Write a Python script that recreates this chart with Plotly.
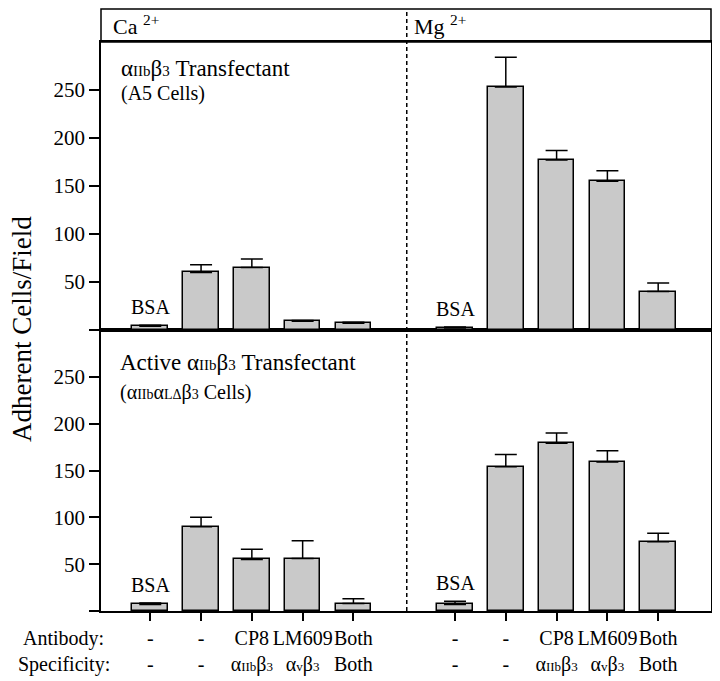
import plotly.graph_objects as go

# ---------------- data ----------------
antibody = ["-", "-", "CP8", "LM609", "Both"]
specificity = ["-", "-", "α<span style='font-size:13px'>IIb</span>β<span style='font-size:13px'>3</span>",
               "α<span style='font-size:13px'>v</span>β<span style='font-size:13px'>3</span>", "Both"]
bar_labels = ["BSA", "", "", "", ""]

a5_ca = [4, 60, 65, 9, 7]
a5_ca_err = [1, 8, 9, 1, 1]
a5_mg = [2, 253, 177, 155, 40]
a5_mg_err = [1, 31, 10, 11, 9]

act_ca = [7, 90, 55, 56, 8]
act_ca_err = [1.5, 10, 11, 19, 5]
act_mg = [7, 154, 179, 159, 74]
act_mg_err = [3.5, 13, 11, 12, 9]

y_ticks = [0, 50, 100, 150, 200, 250]
y_ticktext = ["", "50", "100", "150", "200", "250"]

# ---------------- layout helpers ----------------
FONT = "Liberation Serif, Times New Roman, serif"
OFF = 8                       # page body margin of the html page
W, H = 720 - OFF, 681 - OFF
ML, MR, MT, MB = 101 - OFF, 9, 1, 70
PW, PH = W - ML - MR, H - MT - MB


def px(xp):  # page pixel x -> paper
    return (xp - OFF - ML) / PW


def py(yp):  # page pixel y -> paper
    return (H - MB - (yp - OFF)) / PH


n = len(antibody)
x_ca = [i for i in range(n)]
x_mg = [i + n + 1 for i in range(n)]
x_all = x_ca + x_mg
xrange_ = [-0.97, 2 * n + 1.04]
divider = n + 0.05

split = py(330)
header_bot = py(42)

BAR_COLOR = "#c9c9c9"
LW = 1.5


def bars(x, y, err, xa, ya):
    return go.Bar(
        x=x, y=y, width=0.70, xaxis=xa, yaxis=ya,
        marker=dict(color=BAR_COLOR, line=dict(color="black", width=LW)),
        error_y=dict(type="data", array=err, arrayminus=[0] * len(err), symmetric=False,
                     color="black", thickness=LW, width=11),
        showlegend=False, hoverinfo="y",
    )


fig = go.Figure()
fig.add_trace(bars(x_ca, a5_ca, a5_ca_err, "x2", "y2"))
fig.add_trace(bars(x_mg, a5_mg, a5_mg_err, "x2", "y2"))
fig.add_trace(bars(x_ca, act_ca, act_ca_err, "x", "y"))
fig.add_trace(bars(x_mg, act_mg, act_mg_err, "x", "y"))

ticktext_x = [f"{a}<br>{s}" for a, s in zip(antibody, specificity)] * 2

yax_common = dict(range=[0, 300], tickvals=y_ticks, ticktext=y_ticktext,
                  ticks="outside", ticklen=10, tickwidth=LW, tickcolor="black",
                  showline=True, linecolor="black", linewidth=LW, mirror=True,
                  showgrid=False, zeroline=False, automargin=False,
                  tickfont=dict(family=FONT, size=21, color="black"))

fig.update_layout(
    width=W, height=H,
    margin=dict(l=ML, r=MR, t=MT, b=MB),
    paper_bgcolor="white", plot_bgcolor="white",
    bargap=0,
    xaxis=dict(domain=[0, 1], range=xrange_, anchor="y",
               tickvals=x_all, ticktext=ticktext_x, tickangle=0,
               ticks="outside", ticklen=8, tickwidth=LW, tickcolor="black",
               showline=True, linecolor="black", linewidth=LW, mirror=True,
               showgrid=False, zeroline=False, automargin=False,
               tickfont=dict(family=FONT, size=20, color="black")),
    yaxis=dict(domain=[0, split], anchor="x", **yax_common),
    xaxis2=dict(domain=[0, 1], range=xrange_, anchor="y2", showticklabels=False,
                ticks="", showline=True, linecolor="black", linewidth=LW, mirror=True,
                showgrid=False, zeroline=False),
    yaxis2=dict(domain=[split, header_bot], anchor="x2", **yax_common),
)

# header box and divider
fig.add_shape(type="rect", xref="paper", yref="paper", x0=0, x1=1, y0=header_bot, y1=1,
              line=dict(color="black", width=LW), fillcolor="rgba(0,0,0,0)")
fig.add_shape(type="line", xref="x", yref="paper", x0=divider, x1=divider, y0=0, y1=1,
              line=dict(color="black", width=LW, dash="4px,3px"))

ann = []


def text(x, y, s, size, xanchor="left", xref="paper", yref="paper", yanchor="middle", yshift=0, angle=0):
    ann.append(dict(x=x, y=y, xref=xref, yref=yref, text=s, showarrow=False,
                    xanchor=xanchor, yanchor=yanchor, yshift=yshift, textangle=angle,
                    font=dict(family=FONT, size=size, color="black")))


text(px(111), py(25), "Ca <sup>2+</sup>", 22)
text(px(412), py(25), "Mg <sup>2+</sup>", 22)

sm = "<span style='font-size:15px'>"
sm2 = "<span style='font-size:14px'>"
text(px(119), py(69), f"α{sm}IIb</span>β{sm}3</span> Transfectant", 23)
text(px(119), py(94), "(A5 Cells)", 20)
text(px(118), py(362), f"Active α{sm}IIb</span>β{sm}3</span> Transfectant", 23)
text(px(118), py(392), f"(α{sm2}IIb</span>α{sm2}LΔ</span>β{sm2}3</span> Cells)", 20)

# BSA labels above the BSA bars
for xs, vals, errs, xr, yr in [
    (x_ca, a5_ca, a5_ca_err, "x2", "y2"), (x_mg, a5_mg, a5_mg_err, "x2", "y2"),
    (x_ca, act_ca, act_ca_err, "x", "y"), (x_mg, act_mg, act_mg_err, "x", "y")]:
    for xi, v, e, lab in zip(xs, vals, errs, bar_labels):
        if lab:
            text(xi, v + e, lab, 20, xanchor="center", xref=xr, yref=yr, yanchor="bottom", yshift=5)

text(px(63), py(638), "Antibody:", 20, xanchor="center")
text(px(64), py(664), "Specificity:", 20, xanchor="center")

text(px(22), py(329), "Adherent Cells/Field", 27, xanchor="center", angle=-90)

fig.update_layout(annotations=ann)

fig.write_html("out.html")
